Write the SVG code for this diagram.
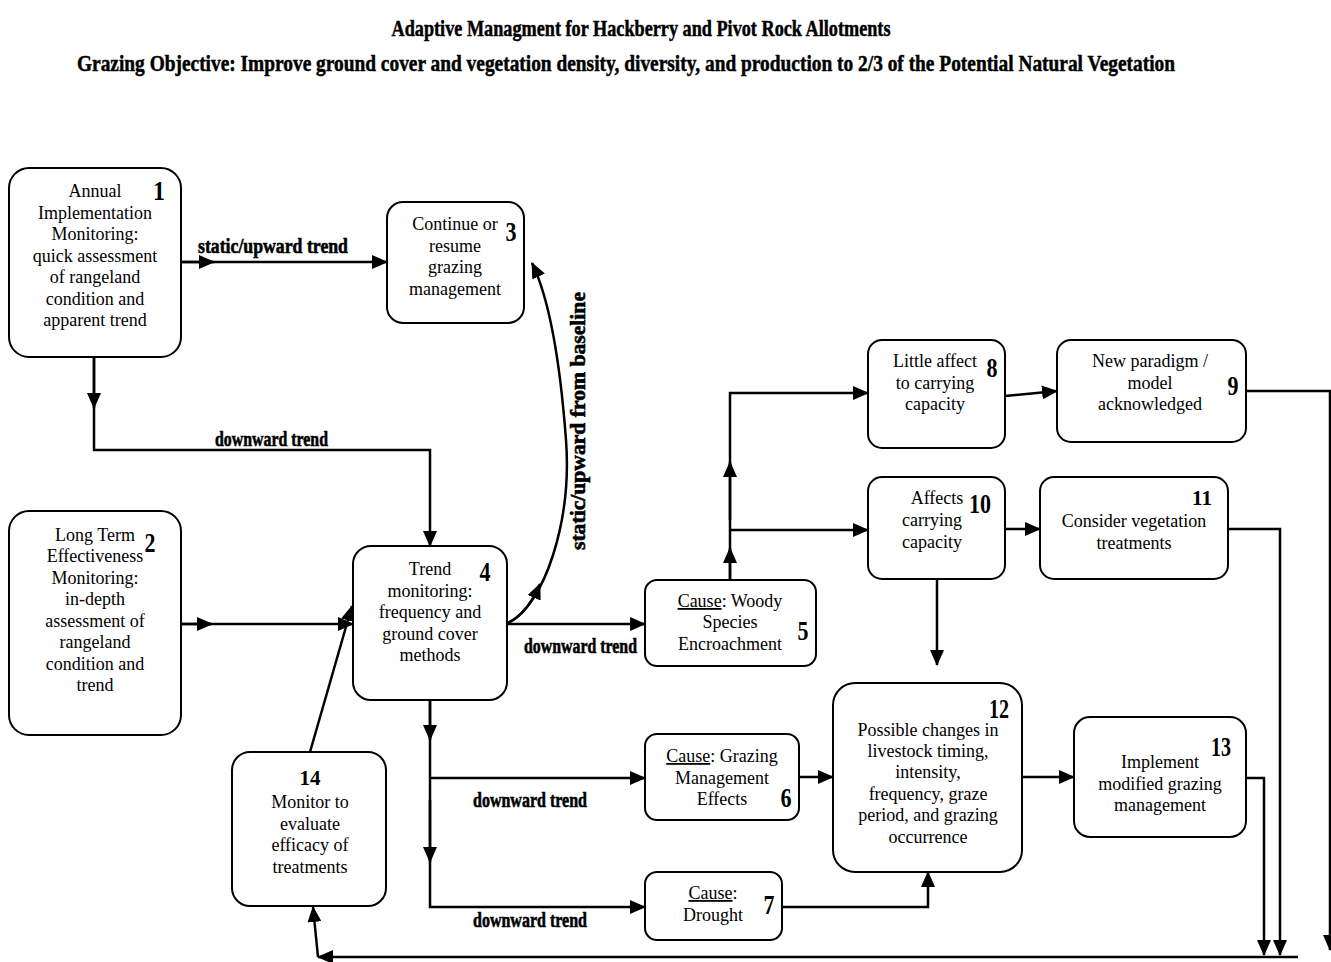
<svg xmlns="http://www.w3.org/2000/svg" width="1331" height="962" viewBox="0 0 1331 962">
<style>
.box{fill:#fff;stroke:#000;stroke-width:2}
.t{font-family:"Liberation Serif",serif;font-size:18px;text-anchor:middle;fill:#000}
.n{font-family:"Liberation Serif",serif;font-size:27px;font-weight:bold;text-anchor:middle;fill:#000}
.nb{font-family:"Liberation Serif",serif;font-size:21px;font-weight:bold;text-anchor:middle;fill:#000}
.lb{font-family:"Liberation Serif",serif;font-size:22px;font-weight:bold;fill:#000;stroke:#000;stroke-width:0.6}
.title{font-family:"Liberation Serif",serif;font-size:19px;font-weight:bold;text-anchor:middle;fill:#000;stroke:#000;stroke-width:0.4}
.c{fill:none;stroke:#000;stroke-width:2.5}
.u{text-decoration:underline}
</style>
<defs>
<marker id="ah" markerUnits="userSpaceOnUse" markerWidth="16" markerHeight="14" refX="15" refY="7" orient="auto">
<path d="M0,0 L16,7 L0,14 z" fill="#000"/>
</marker>
</defs>
<rect width="1331" height="962" fill="#fff"/>
<g id="title">
<text class="title" transform="translate(641,36) scale(1,1.25)" x="0" y="0" textLength="499" lengthAdjust="spacingAndGlyphs">Adaptive Managment for Hackberry and Pivot Rock  Allotments</text>
<text class="title" transform="translate(626,71) scale(1,1.25)" x="0" y="0" textLength="1098" lengthAdjust="spacingAndGlyphs">Grazing Objective:  Improve ground cover and vegetation density, diversity, and production to 2/3 of the Potential Natural Vegetation</text>
</g>
<g id="connectors">
<path class="c" d="M181,262 L387,262" marker-end="url(#ah)"/>
<path class="c" d="M181,262 L214,262" marker-end="url(#ah)"/>
<path class="c" d="M94,357 L94,450 L430,450 L430,546" marker-end="url(#ah)"/>
<path class="c" d="M94,357 L94,408" marker-end="url(#ah)"/>
<path class="c" d="M181,624 L353,624" marker-end="url(#ah)"/>
<path class="c" d="M181,624 L212,624" marker-end="url(#ah)"/>
<path class="c" d="M508,623 C545,605 572,520 566,440 S550,300 532,263" marker-end="url(#ah)"/>
<path class="c" d="M508,623 C522,616 532,603 540,584" marker-end="url(#ah)"/>
<path class="c" d="M507,624 L645,624" marker-end="url(#ah)"/>
<path class="c" d="M730,580 L730,393 L868,393" marker-end="url(#ah)"/>
<path class="c" d="M730,580 L730,548" marker-end="url(#ah)"/>
<path class="c" d="M730,520 L730,462" marker-end="url(#ah)"/>
<path class="c" d="M730,530 L868,530" marker-end="url(#ah)"/>
<path class="c" d="M1005,396 L1057,391" marker-end="url(#ah)"/>
<path class="c" d="M1246,391 L1330,391 L1330,950" marker-end="url(#ah)"/>
<path class="c" d="M1005,529 L1040,529" marker-end="url(#ah)"/>
<path class="c" d="M937,579 L937,665" marker-end="url(#ah)"/>
<path class="c" d="M1228,529 L1280,529 L1280,955" marker-end="url(#ah)"/>
<path class="c" d="M430,700 L430,907 L645,907" marker-end="url(#ah)"/>
<path class="c" d="M430,700 L430,740" marker-end="url(#ah)"/>
<path class="c" d="M430,800 L430,862" marker-end="url(#ah)"/>
<path class="c" d="M430,778 L645,778" marker-end="url(#ah)"/>
<path class="c" d="M799,777 L833,777" marker-end="url(#ah)"/>
<path class="c" d="M782,907 L928,907 L928,872" marker-end="url(#ah)"/>
<path class="c" d="M1022,777 L1074,777" marker-end="url(#ah)"/>
<path class="c" d="M1246,778 L1264,778 L1264,955" marker-end="url(#ah)"/>
<path class="c" d="M1298,957 L318,957" marker-end="url(#ah)"/>
<path class="c" d="M318,957 L313,907" marker-end="url(#ah)"/>
<path class="c" d="M310,752 L352,606" marker-end="url(#ah)"/>
<text class="lb" x="198" y="253" textLength="150" lengthAdjust="spacingAndGlyphs">static/upward trend</text>
<text class="lb" x="215" y="446" textLength="113" lengthAdjust="spacingAndGlyphs">downward trend</text>
<text class="lb" x="524" y="653" textLength="113" lengthAdjust="spacingAndGlyphs">downward trend</text>
<text class="lb" x="473" y="807" textLength="114" lengthAdjust="spacingAndGlyphs">downward trend</text>
<text class="lb" x="473" y="927" textLength="114" lengthAdjust="spacingAndGlyphs">downward trend</text>
<text class="lb" transform="translate(585,550) rotate(-90)" x="0" y="0" textLength="258" lengthAdjust="spacingAndGlyphs">static/upward from baseline</text>
</g>
<g id="node1">
<rect class="box" x="9" y="168" width="172" height="189" rx="20"/>
<text class="t" x="95" y="197">Annual</text>
<text class="t" x="95" y="219">Implementation</text>
<text class="t" x="95" y="240">Monitoring:</text>
<text class="t" x="95" y="262">quick assessment</text>
<text class="t" x="95" y="283">of rangeland</text>
<text class="t" x="95" y="305">condition and</text>
<text class="t" x="95" y="326">apparent trend</text>
<text class="n" x="159" y="200" textLength="12" lengthAdjust="spacingAndGlyphs">1</text>
</g>
<g id="node2">
<rect class="box" x="9" y="511" width="172" height="224" rx="20"/>
<text class="t" x="95" y="541">Long Term</text>
<text class="t" x="95" y="562">Effectiveness</text>
<text class="t" x="95" y="584">Monitoring:</text>
<text class="t" x="95" y="605">in-depth</text>
<text class="t" x="95" y="627">assessment of</text>
<text class="t" x="95" y="648">rangeland</text>
<text class="t" x="95" y="670">condition and</text>
<text class="t" x="95" y="691">trend</text>
<text class="n" x="150" y="552" textLength="11" lengthAdjust="spacingAndGlyphs">2</text>
</g>
<g id="node3">
<rect class="box" x="387" y="202" width="137" height="121" rx="16"/>
<text class="t" x="455" y="230">Continue or</text>
<text class="t" x="455" y="252">resume</text>
<text class="t" x="455" y="273">grazing</text>
<text class="t" x="455" y="295">management</text>
<text class="n" x="511" y="241" textLength="11" lengthAdjust="spacingAndGlyphs">3</text>
</g>
<g id="node4">
<rect class="box" x="353" y="546" width="154" height="154" rx="18"/>
<text class="t" x="430" y="575">Trend</text>
<text class="t" x="430" y="597">monitoring:</text>
<text class="t" x="430" y="618">frequency and</text>
<text class="t" x="430" y="640">ground cover</text>
<text class="t" x="430" y="661">methods</text>
<text class="n" x="485" y="581" textLength="11" lengthAdjust="spacingAndGlyphs">4</text>
</g>
<g id="node5">
<rect class="box" x="645" y="580" width="171" height="86" rx="12"/>
<text class="t" x="730" y="607"><tspan class="u">Cause</tspan>: Woody</text>
<text class="t" x="730" y="628">Species</text>
<text class="t" x="730" y="650">Encroachment</text>
<text class="n" x="803" y="640" textLength="11" lengthAdjust="spacingAndGlyphs">5</text>
</g>
<g id="node6">
<rect class="box" x="645" y="734" width="154" height="86" rx="12"/>
<text class="t" x="722" y="762"><tspan class="u">Cause</tspan>: Grazing</text>
<text class="t" x="722" y="784">Management</text>
<text class="t" x="722" y="805">Effects</text>
<text class="n" x="786" y="807" textLength="11" lengthAdjust="spacingAndGlyphs">6</text>
</g>
<g id="node7">
<rect class="box" x="645" y="872" width="137" height="68" rx="12"/>
<text class="t" x="713" y="899"><tspan class="u">Cause</tspan>:</text>
<text class="t" x="713" y="921">Drought</text>
<text class="n" x="769" y="914" textLength="11" lengthAdjust="spacingAndGlyphs">7</text>
</g>
<g id="node8">
<rect class="box" x="868" y="340" width="137" height="108" rx="14"/>
<text class="t" x="935" y="367">Little affect</text>
<text class="t" x="935" y="389">to carrying</text>
<text class="t" x="935" y="410">capacity</text>
<text class="n" x="992" y="377" textLength="11" lengthAdjust="spacingAndGlyphs">8</text>
</g>
<g id="node9">
<rect class="box" x="1057" y="340" width="189" height="102" rx="14"/>
<text class="t" x="1150" y="367">New paradigm /</text>
<text class="t" x="1150" y="389">model</text>
<text class="t" x="1150" y="410">acknowledged</text>
<text class="n" x="1233" y="395" textLength="11" lengthAdjust="spacingAndGlyphs">9</text>
</g>
<g id="node10">
<rect class="box" x="868" y="477" width="137" height="102" rx="14"/>
<text class="t" x="937" y="504">Affects</text>
<text class="t" x="932" y="526">carrying</text>
<text class="t" x="932" y="548">capacity</text>
<text class="n" x="980" y="513" textLength="22" lengthAdjust="spacingAndGlyphs">10</text>
</g>
<g id="node11">
<rect class="box" x="1040" y="477" width="188" height="102" rx="14"/>
<text class="nb" x="1202" y="505">11</text>
<text class="t" x="1134" y="527">Consider vegetation</text>
<text class="t" x="1134" y="549">treatments</text>
</g>
<g id="node12">
<rect class="box" x="833" y="683" width="189" height="189" rx="22"/>
<text class="n" x="999" y="718" textLength="20" lengthAdjust="spacingAndGlyphs">12</text>
<text class="t" x="928" y="736">Possible changes in</text>
<text class="t" x="928" y="757">livestock timing,</text>
<text class="t" x="928" y="778">intensity,</text>
<text class="t" x="928" y="800">frequency, graze</text>
<text class="t" x="928" y="821">period, and grazing</text>
<text class="t" x="928" y="843">occurrence</text>
</g>
<g id="node13">
<rect class="box" x="1074" y="717" width="172" height="120" rx="16"/>
<text class="n" x="1221" y="756" textLength="20" lengthAdjust="spacingAndGlyphs">13</text>
<text class="t" x="1160" y="768">Implement</text>
<text class="t" x="1160" y="790">modified grazing</text>
<text class="t" x="1160" y="811">management</text>
</g>
<g id="node14">
<rect class="box" x="232" y="752" width="154" height="154" rx="18"/>
<text class="nb" x="310" y="785">14</text>
<text class="t" x="310" y="808">Monitor to</text>
<text class="t" x="310" y="830">evaluate</text>
<text class="t" x="310" y="851">efficacy of</text>
<text class="t" x="310" y="873">treatments</text>
</g>
</svg>
